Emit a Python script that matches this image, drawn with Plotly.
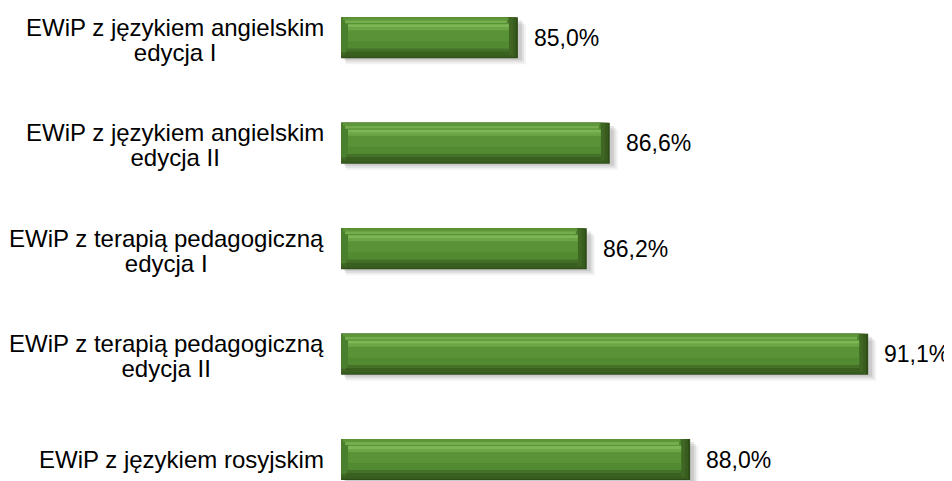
import plotly.graph_objects as go

categories = [
    "EWiP z językiem angielskim<br>edycja I",
    "EWiP z językiem angielskim<br>edycja II",
    "EWiP z terapią pedagogiczną<br>edycja I",
    "EWiP z terapią pedagogiczną<br>edycja II",
    "EWiP z językiem rosyjskim",
]
values = [85.0, 86.6, 86.2, 91.1, 88.0]
value_labels = ["85,0%", "86,6%", "86,2%", "91,1%", "88,0%"]

AXIS_MIN = 81.92
# page has an 8px body margin, so the figure is 944x473
W, H = 944, 473
X_RANGE = [76.12, 92.56]
Y_RANGE = [4.203, -0.283]

PX_X = (X_RANGE[1] - X_RANGE[0]) / W      # data units per px (x)
PX_Y = (Y_RANGE[0] - Y_RANGE[1]) / H      # category units per px (y)
BAR_H = 41
BAR_W = BAR_H * PX_Y
FONT = "Liberation Sans, Arial, sans-serif"

ypos = list(range(len(categories)))
n = len(values)
fig = go.Figure()


def layer(l_px, r_px, top_px, height_px, color):
    x0s = [AXIS_MIN + l_px * PX_X] * n
    x1s = [v + r_px * PX_X for v in values]
    fig.add_trace(go.Bar(
        y=ypos, x=[b - a for a, b in zip(x0s, x1s)], base=x0s,
        orientation="h", width=height_px * PX_Y,
        offset=-BAR_W / 2 + top_px * PX_Y,
        marker=dict(color=color, line=dict(width=0)),
        hoverinfo="skip", showlegend=False,
    ))


# soft shadow below / right
layer(5, 8, 7, 40, "rgba(0,0,0,0.05)")
layer(4, 6, 5, 40, "rgba(0,0,0,0.07)")
layer(3, 4, 3, 40, "rgba(0,0,0,0.09)")
# full bar, darkest (bottom / right bevel)
layer(0, 0, 0, 41, "#2f4d19")
layer(0, -2, 0, 40, "#385c1e")
layer(0, -5, 0, 38, "#3f6623")
# left + top region
layer(0, -9, 0, 35, "#4a7f2d")
# top bevel
layer(2, -10, 0, 3, "#5f9539")
layer(4, -11, 3, 3, "#74ad4d")
# bottom bevel
layer(5, -9, 34, 4, "#3a6020")
layer(6, -9, 31, 3, "#44702a")
# inner face
layer(7, -9, 6, 25, "#5a9337")
# highlight stripe on face
layer(7, -9, 7, 3, "#7cb655")
layer(7, -9, 10, 3, "#6ca646")
layer(7, -9, 24, 7, "#528a32")

annotations = []
for i, (cat, v, lab) in enumerate(zip(categories, values, value_labels)):
    lines = cat.split("<br>")
    text = "<br>".join('<span style="font-size:24px">%s</span>' % line for line in lines)
    annotations.append(dict(
        x=AXIS_MIN, y=i, xref="x", yref="y", text=text, showarrow=False,
        xanchor="right", yanchor="middle", xshift=-15,
        yshift=-2 if len(lines) > 1 else 0,
        align="center",
        font=dict(family=FONT, size=19, color="#000000"),
    ))
    annotations.append(dict(
        x=v, y=i, xref="x", yref="y", text=lab, showarrow=False,
        xanchor="left", yanchor="middle", xshift=14,
        font=dict(family=FONT, size=23, color="#000000"),
    ))

fig.update_layout(
    width=W, height=H, barmode="overlay",
    margin=dict(l=0, r=0, t=0, b=0),
    paper_bgcolor="white", plot_bgcolor="white",
    xaxis=dict(range=X_RANGE, visible=False, fixedrange=True),
    yaxis=dict(range=Y_RANGE, visible=False, fixedrange=True),
    annotations=annotations,
)

fig.write_html("out.html")
